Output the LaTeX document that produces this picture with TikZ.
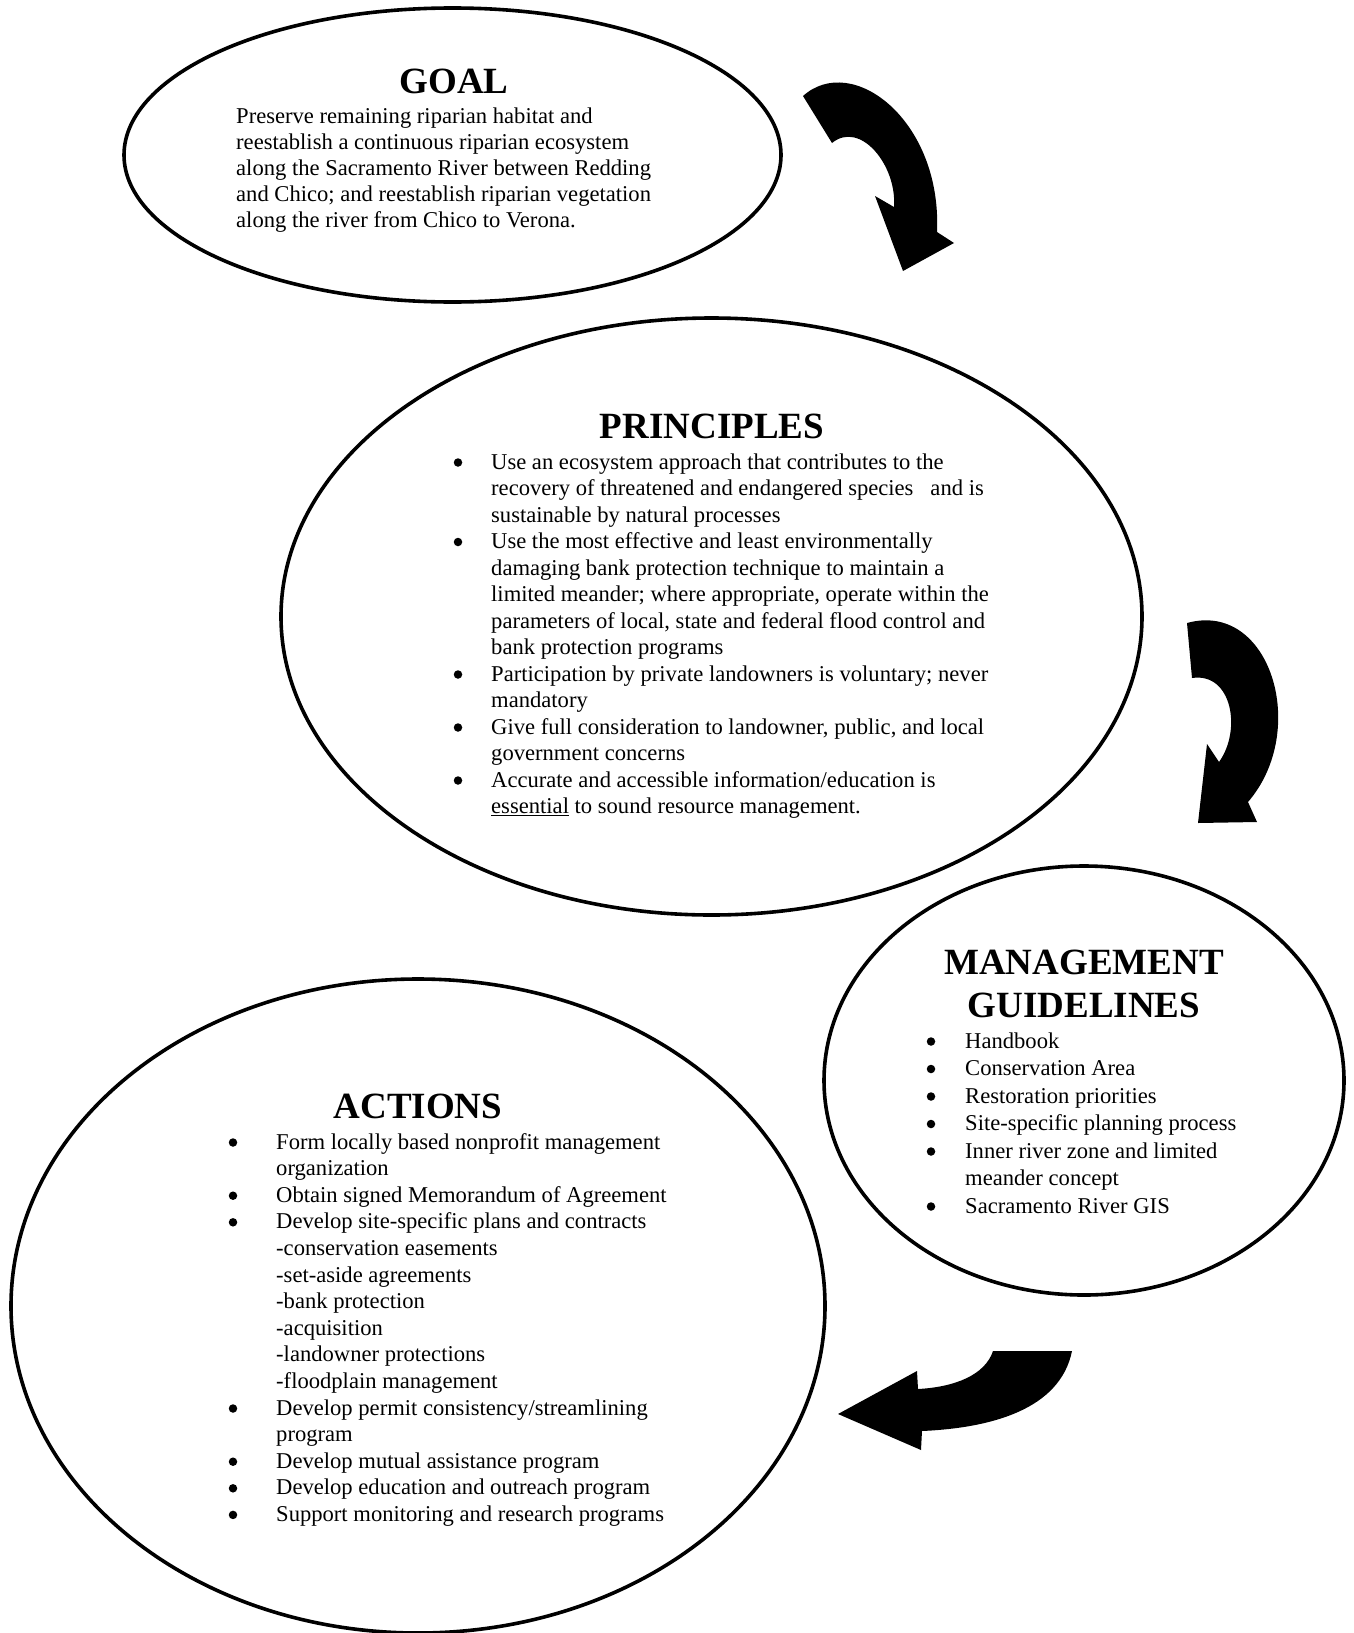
\documentclass[tikz,border=0pt]{standalone}
\usepackage{fontspec}
\setmainfont{Liberation Serif}
\usetikzlibrary{shapes.geometric}
\begin{document}
\begin{tikzpicture}[x=1pt,y=-1pt,
  bubble/.style={draw, line width=3.6pt, ellipse, inner sep=0pt},
  ttl/.style={font=\fontsize{37}{42}\selectfont\bfseries, inner sep=0pt, anchor=base},
  body/.style={font=\fontsize{22.6}{26}\selectfont, inner sep=0pt, anchor=base west},
  bul/.style={circle, fill=black, inner sep=0pt, minimum size=8.5pt, yshift=6.5pt},
  blockarrow/.style={fill=black, draw=none}]
\path[use as bounding box, fill=white] (0,0) rectangle (1353,1633);

% ellipses
\node[bubble, minimum width=657pt, minimum height=294pt] (goal) at (452.5,155) {};
\node[bubble, minimum width=861pt, minimum height=597pt] (prin) at (711.5,616.5) {};
\node[bubble, minimum width=520pt, minimum height=429pt] (mgmt) at (1084,1080.5) {};
\node[bubble, minimum width=814pt, minimum height=654pt] (act) at (418,1306) {};

% GOAL
\node[ttl] (goalT) at (454,93) {GOAL};
\node[body] (g1) at (236,123) {Preserve remaining riparian habitat and};
\node[body] (g2) at (236,149) {reestablish a continuous riparian ecosystem};
\node[body] (g3) at (236,175) {along the Sacramento River between Redding};
\node[body] (g4) at (236,201) {and Chico; and reestablish riparian vegetation};
\node[body] (g5) at (236,227) {along the river from Chico to Verona.};

% PRINCIPLES
\node[ttl] (prinT) at (712,438) {PRINCIPLES};
\node[bul] (pb1) at (458,469) {};
\node[body] (p1) at (491,469) {Use an ecosystem approach that contributes to the};
\node[body] (p2) at (491,495.5) {recovery of threatened and endangered species\ \ \ and is};
\node[body] (p3) at (491,522) {sustainable by natural processes};
\node[bul] (pb2) at (458,548.5) {};
\node[body] (p4) at (491,548.5) {Use the most effective and least environmentally};
\node[body] (p5) at (491,575) {damaging bank protection technique to maintain a};
\node[body] (p6) at (491,601.5) {limited meander; where appropriate, operate within the};
\node[body] (p7) at (491,628) {parameters of local, state and federal flood control and};
\node[body] (p8) at (491,654.5) {bank protection programs};
\node[bul] (pb3) at (458,681) {};
\node[body] (p9) at (491,681) {Participation by private landowners is voluntary; never};
\node[body] (p10) at (491,707.5) {mandatory};
\node[bul] (pb4) at (458,734) {};
\node[body] (p11) at (491,734) {Give full consideration to landowner, public, and local};
\node[body] (p12) at (491,760.5) {government concerns};
\node[bul] (pb5) at (458,787) {};
\node[body] (p13) at (491,787) {Accurate and accessible information/education is};
\node[body] (p14) at (491,813.5) {\underline{essential} to sound resource management.};

% MANAGEMENT GUIDELINES
\node[ttl] (mgmtT1) at (1084,974) {MANAGEMENT};
\node[ttl] (mgmtT2) at (1084,1017) {GUIDELINES};
\node[bul] (mb1) at (931,1048) {};
\node[body] (m1) at (965,1048) {Handbook};
\node[bul] (mb2) at (931,1075.5) {};
\node[body] (m2) at (965,1075.5) {Conservation Area};
\node[bul] (mb3) at (931,1103) {};
\node[body] (m3) at (965,1103) {Restoration priorities};
\node[bul] (mb4) at (931,1130.5) {};
\node[body] (m4) at (965,1130.5) {Site-specific planning process};
\node[bul] (mb5) at (931,1158) {};
\node[body] (m5) at (965,1158) {Inner river zone and limited};
\node[body] (m6) at (965,1185.5) {meander concept};
\node[bul] (mb6) at (931,1213) {};
\node[body] (m7) at (965,1213) {Sacramento River GIS};

% ACTIONS
\node[ttl] (actT) at (418,1118) {ACTIONS};
\node[bul] (ab1) at (233,1149) {};
\node[body] (a1) at (276,1149) {Form locally based nonprofit management};
\node[body] (a2) at (276,1175.6) {organization};
\node[bul] (ab2) at (233,1202.2) {};
\node[body] (a3) at (276,1202.2) {Obtain signed Memorandum of Agreement};
\node[bul] (ab3) at (233,1228.8) {};
\node[body] (a4) at (276,1228.8) {Develop site-specific plans and contracts};
\node[body] (a5) at (276,1255.4) {-conservation easements};
\node[body] (a6) at (276,1282) {-set-aside agreements};
\node[body] (a7) at (276,1308.6) {-bank protection};
\node[body] (a8) at (276,1335.2) {-acquisition};
\node[body] (a9) at (276,1361.8) {-landowner protections};
\node[body] (a10) at (276,1388.4) {-floodplain management};
\node[bul] (ab4) at (233,1415) {};
\node[body] (a11) at (276,1415) {Develop permit consistency/streamlining};
\node[body] (a12) at (276,1441.6) {program};
\node[bul] (ab5) at (233,1468.2) {};
\node[body] (a13) at (276,1468.2) {Develop mutual assistance program};
\node[bul] (ab6) at (233,1494.8) {};
\node[body] (a14) at (276,1494.8) {Develop education and outreach program};
\node[bul] (ab7) at (233,1521.4) {};
\node[body] (a15) at (276,1521.4) {Support monitoring and research programs};

% curved block arrows
\fill[blockarrow] (803,96) .. controls (852,52) and (942,120) .. (937,232)
  -- (954,243) -- (903,271) -- (875,196) -- (894,207)
  .. controls (897,165) and (860,120) .. (832,143) -- cycle;
\fill[blockarrow] (1187,623) .. controls (1270,600) and (1310,730) .. (1248,802)
  -- (1257,822) -- (1198,823) -- (1207,744) -- (1219,762)
  .. controls (1242,730) and (1232,672) .. (1192,678) -- cycle;
\fill[blockarrow] (1072,1351) .. controls (1060,1410) and (990,1428) .. (922,1431)
  -- (921,1450) -- (838,1414) -- (917,1371) -- (918,1389)
  .. controls (955,1387) and (985,1375) .. (993,1351) -- cycle;
\end{tikzpicture}
\end{document}
